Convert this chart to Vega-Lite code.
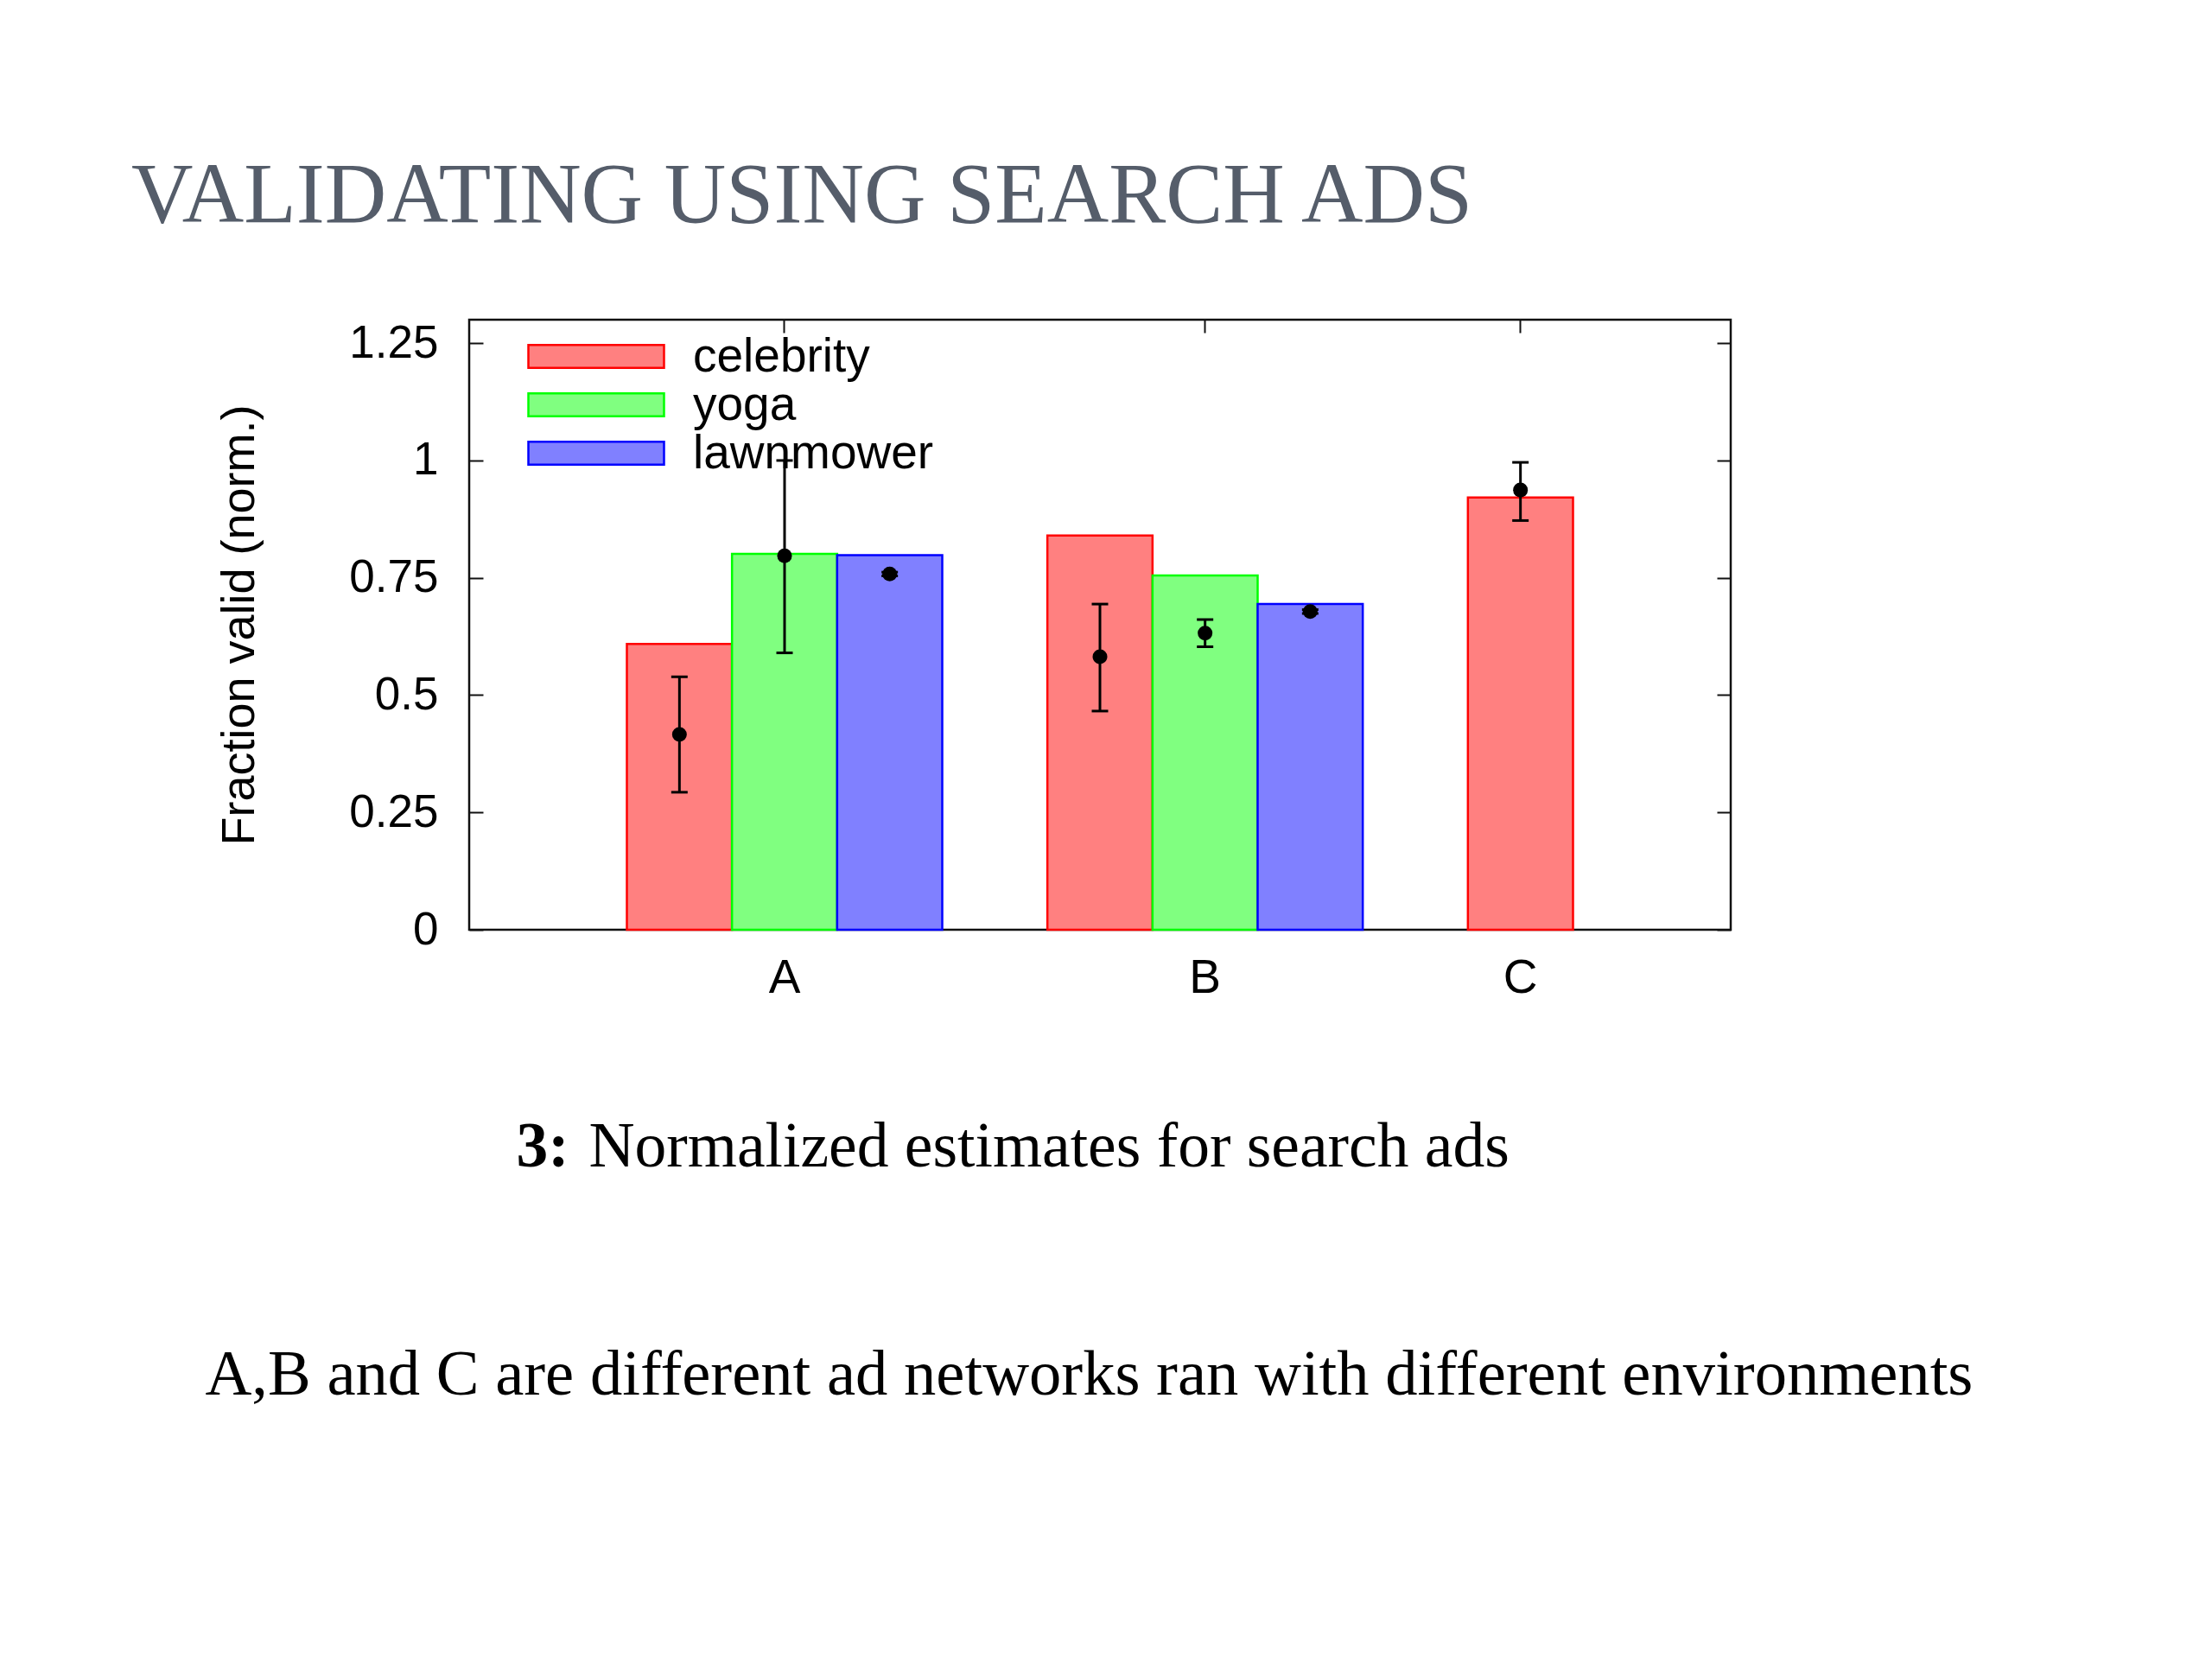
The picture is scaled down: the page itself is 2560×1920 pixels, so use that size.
{
  "$schema": "https://vega.github.io/schema/vega-lite/v6.json",
  "width": 1460,
  "height": 706,
  "autosize": {"type": "none"},
  "padding": {"left": 543, "top": 370, "right": 557, "bottom": 844},
  "background": "white",
  "title": {
    "text": "VALIDATING USING SEARCH ADS",
    "anchor": "start",
    "frame": "group",
    "orient": "top",
    "font": "Liberation Serif",
    "fontSize": 99,
    "fontWeight": "normal",
    "color": "#555d6a",
    "baseline": "alphabetic",
    "offset": 13,
    "dx": -391
  },
  "data": {
    "values": [
      {"bar": "A celebrity", "network": "A", "query": "celebrity", "value": 0.609, "est": 0.416, "lower": 0.293, "upper": 0.539},
      {"bar": "A yoga", "network": "A", "query": "yoga", "value": 0.801, "est": 0.797, "lower": 0.590, "upper": 1.0},
      {"bar": "A lawnmower", "network": "A", "query": "lawnmower", "value": 0.798, "est": 0.758, "lower": 0.754, "upper": 0.762},
      {"bar": "B celebrity", "network": "B", "query": "celebrity", "value": 0.840, "est": 0.582, "lower": 0.466, "upper": 0.694},
      {"bar": "B yoga", "network": "B", "query": "yoga", "value": 0.755, "est": 0.632, "lower": 0.603, "upper": 0.661},
      {"bar": "B lawnmower", "network": "B", "query": "lawnmower", "value": 0.694, "est": 0.678, "lower": 0.674, "upper": 0.682},
      {"bar": "C celebrity", "network": "C", "query": "celebrity", "value": 0.921, "est": 0.937, "lower": 0.872, "upper": 0.996}
    ]
  },
  "layer": [
    {
      "mark": {"type": "bar", "strokeWidth": 2.5},
      "encoding": {
        "x": {
          "field": "bar",
          "type": "nominal",
          "scale": {
            "domain": ["   ", "A celebrity", "A yoga", "A lawnmower", " ", "B celebrity", "B yoga", "B lawnmower", "  ", "C celebrity", "    "],
            "paddingInner": 0,
            "paddingOuter": 0.5
          },
          "axis": {
            "orient": "bottom",
            "values": ["A yoga", "B yoga", "C celebrity"],
            "labelExpr": "substring(datum.label, 0, 1)",
            "labelAngle": 0,
            "labelPadding": 45,
            "labelFontSize": 55,
            "tickSize": -16,
            "title": "Normalized estimates for search ads",
            "titleX": 138,
            "titleY": 273,
            "titleAlign": "left",
            "titleBaseline": "alphabetic",
            "titleFont": "Liberation Serif",
            "titleFontSize": 73.5,
            "titleFontWeight": "normal",
            "titleColor": "#000000"
          }
        },
        "y": {
          "field": "value",
          "type": "quantitative",
          "scale": {"domain": [0, 1.3], "nice": false, "zero": true},
          "axis": {
            "orient": "left",
            "values": [0, 0.25, 0.5, 0.75, 1, 1.25],
            "format": ".3~g",
            "labelPadding": 52,
            "tickSize": -16,
            "title": "Fraction valid (norm.)",
            "titleX": -250,
            "titleY": 353,
            "titleAngle": 270,
            "titleAlign": "center",
            "titleBaseline": "alphabetic",
            "titleFont": "Liberation Sans",
            "titleFontSize": 54,
            "titleFontWeight": "normal",
            "titleColor": "#000000"
          }
        },
        "fill": {
          "field": "query",
          "type": "nominal",
          "scale": {"domain": ["celebrity", "yoga", "lawnmower"], "range": ["#ff8080", "#80ff80", "#8080ff"]},
          "legend": {
            "title": null,
            "orient": "none",
            "legendX": 67,
            "legendY": 15,
            "padding": 0,
            "symbolType": "M-1,-0.17H1V0.17H-1Z",
            "symbolSize": 24649,
            "symbolStrokeWidth": 2.5,
            "clipHeight": 55,
            "rowPadding": 0,
            "labelOffset": 32,
            "labelFont": "Liberation Sans",
            "labelFontSize": 55,
            "labelColor": "#000000",
            "labelBaseline": "middle",
            "labelLimit": 0
          }
        },
        "stroke": {
          "field": "query",
          "type": "nominal",
          "scale": {"domain": ["celebrity", "yoga", "lawnmower"], "range": ["#ff0000", "#00ff00", "#0000ff"]},
          "legend": {
            "title": null,
            "orient": "none",
            "legendX": 67,
            "legendY": 15,
            "padding": 0,
            "symbolType": "M-1,-0.17H1V0.17H-1Z",
            "symbolSize": 24649,
            "symbolStrokeWidth": 2.5,
            "clipHeight": 55,
            "rowPadding": 0,
            "labelOffset": 32,
            "labelFont": "Liberation Sans",
            "labelFontSize": 55,
            "labelColor": "#000000",
            "labelBaseline": "middle",
            "labelLimit": 0
          }
        }
      }
    },
    {
      "mark": {"type": "rule", "strokeWidth": 3, "color": "#000000"},
      "encoding": {
        "x": {
          "field": "bar",
          "type": "nominal",
          "axis": {
            "orient": "top",
            "values": ["A yoga", "B yoga", "C celebrity"],
            "labels": false,
            "tickSize": -15,
            "title": "A,B and C are different ad networks ran with different environments",
            "titleX": -306,
            "titleY": 1243,
            "titleAlign": "left",
            "titleBaseline": "alphabetic",
            "titleFont": "Liberation Serif",
            "titleFontSize": 74.6,
            "titleFontWeight": "normal",
            "titleColor": "#000000"
          }
        },
        "y": {
          "field": "lower",
          "type": "quantitative",
          "axis": {
            "orient": "right",
            "values": [0, 0.25, 0.5, 0.75, 1, 1.25],
            "labels": false,
            "tickSize": -16,
            "title": "3:",
            "titleAngle": 0,
            "titleX": -1406,
            "titleY": 979,
            "titleAlign": "left",
            "titleBaseline": "alphabetic",
            "titleFont": "Liberation Serif",
            "titleFontSize": 73.5,
            "titleFontWeight": "bold",
            "titleColor": "#000000"
          }
        },
        "y2": {"field": "upper"}
      }
    },
    {
      "mark": {"type": "tick", "orient": "horizontal", "size": 19, "thickness": 3, "color": "#000000", "opacity": 1},
      "encoding": {
        "x": {"field": "bar", "type": "nominal", "axis": null},
        "y": {"field": "lower", "type": "quantitative", "axis": null}
      }
    },
    {
      "mark": {"type": "tick", "orient": "horizontal", "size": 19, "thickness": 3, "color": "#000000", "opacity": 1},
      "encoding": {
        "x": {"field": "bar", "type": "nominal", "axis": null},
        "y": {"field": "upper", "type": "quantitative", "axis": null}
      }
    },
    {
      "mark": {"type": "point", "filled": true, "shape": "circle", "size": 290, "color": "#000000", "opacity": 1},
      "encoding": {
        "x": {"field": "bar", "type": "nominal", "axis": null},
        "y": {"field": "est", "type": "quantitative", "axis": null}
      }
    }
  ],
  "resolve": {"axis": {"x": "independent", "y": "independent"}},
  "config": {
    "view": {"stroke": "#111111", "strokeWidth": 2.5},
    "axis": {
      "grid": false,
      "domain": false,
      "labelFont": "Liberation Sans",
      "labelFontSize": 53,
      "labelColor": "#000000",
      "tickColor": "#111111",
      "tickWidth": 2
    }
  }
}
